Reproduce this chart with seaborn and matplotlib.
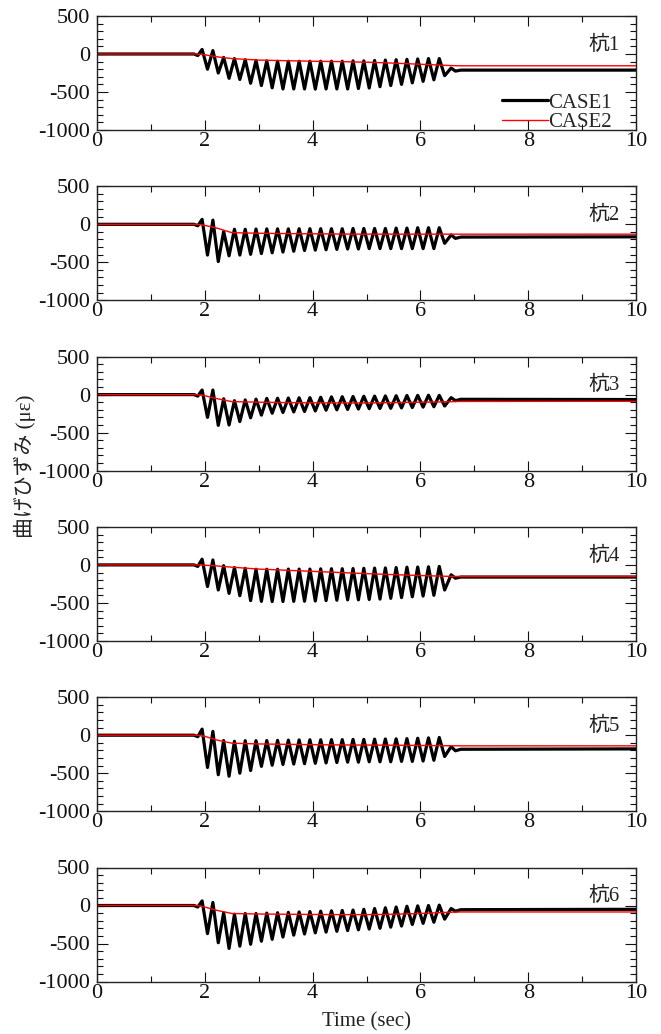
import numpy as np
import pandas as pd
import matplotlib
matplotlib.use("Agg")
import matplotlib.pyplot as plt
from matplotlib.ticker import MultipleLocator
import seaborn as sns

# ---- data -------------------------------------------------------------
PILES = ["杭1", "杭2", "杭3", "杭4", "杭5", "杭6"]

# rest before shaking, then crest / trough times of the response (sec)
LEAD_T = [0.0, 1.80, 1.87]
PEAK_T = [1.95, 2.15, 2.35, 2.55, 2.75, 2.95, 3.15, 3.35, 3.55, 3.75, 3.95, 4.15,
          4.35, 4.55, 4.75, 4.95, 5.15, 5.35, 5.55, 5.75, 5.95, 6.15, 6.35]
TROUGH_T = [2.05, 2.25, 2.45, 2.65, 2.85, 3.05, 3.25, 3.45, 3.65, 3.85, 4.05, 4.25,
            4.45, 4.65, 4.85, 5.05, 5.25, 5.45, 5.65, 5.85, 6.05, 6.25, 6.45]
TAIL_T = [6.57, 6.65, 6.75, 10.0]

# CASE1 bending strain (με)
LEAD_V = [0, 0, -20]
CASE1_PEAKS = [
    [60, 45, -45, -60, -75, -85, -90, -95, -95, -95, -95, -95, -95, -95, -90, -90, -85, -80, -75, -70, -65, -60, -60],
    [65, 55, -95, -65, -65, -62, -60, -60, -60, -58, -58, -58, -58, -58, -55, -55, -55, -55, -50, -50, -45, -45, -45],
    [60, 60, -55, -80, -70, -60, -50, -48, -45, -42, -40, -35, -30, -28, -25, -22, -20, -18, -15, -12, -10, -8, -10],
    [75, 65, -10, -35, -45, -57, -57, -57, -55, -55, -55, -52, -50, -50, -48, -45, -42, -40, -35, -30, -28, -25, -20],
    [80, 50, -70, -80, -72, -72, -70, -68, -65, -62, -60, -60, -58, -58, -55, -55, -52, -50, -48, -45, -40, -35, -30],
    [60, 40, -95, -115, -105, -105, -100, -95, -90, -85, -80, -75, -70, -65, -60, -50, -40, -30, -20, -10, -5, 0, 5],
]
CASE1_TROUGHS = [
    [-200, -250, -320, -335, -385, -415, -445, -460, -460, -460, -462, -460, -460, -460, -455, -448, -430, -415, -400, -380, -360, -340, -285],
    [-405, -490, -415, -405, -395, -385, -375, -365, -355, -345, -340, -335, -330, -325, -325, -320, -320, -320, -320, -320, -320, -320, -250],
    [-300, -405, -400, -355, -305, -270, -245, -235, -228, -222, -215, -205, -200, -195, -190, -185, -182, -180, -175, -170, -165, -160, -150],
    [-285, -330, -375, -405, -470, -480, -482, -482, -480, -478, -475, -470, -465, -460, -460, -455, -450, -440, -430, -420, -410, -400, -330],
    [-425, -520, -540, -500, -465, -410, -395, -385, -380, -375, -370, -365, -360, -355, -355, -350, -350, -350, -345, -345, -340, -330, -280],
    [-370, -490, -565, -535, -510, -470, -445, -415, -390, -375, -360, -350, -340, -330, -320, -310, -300, -285, -270, -250, -235, -220, -180],
]
CASE1_TAILS = [
    [-185, -225, -212, -212],
    [-140, -185, -168, -165],
    [-40, -80, -62, -65],
    [-130, -175, -160, -160],
    [-150, -205, -185, -180],
    [-40, -75, -55, -50],
]

# CASE2 bending strain (με)
CASE2_T = [0.0, 1.85, 2.0, 2.2, 2.5, 3.0, 3.5, 4.0, 4.5, 5.0, 5.5, 6.0, 6.5, 6.7, 10.0]
CASE2_V = [
    [0, 0, -10, -35, -60, -80, -88, -95, -100, -108, -120, -135, -150, -155, -155],
    [0, 0, -15, -45, -110, -118, -122, -125, -128, -130, -130, -130, -130, -130, -130],
    [0, 0, -15, -50, -92, -100, -105, -108, -110, -110, -105, -100, -95, -90, -88],
    [0, 0, -5, -12, -30, -55, -70, -85, -100, -115, -128, -140, -150, -152, -152],
    [0, 0, -15, -60, -105, -115, -120, -125, -128, -130, -132, -135, -138, -140, -140],
    [0, 0, -20, -60, -105, -112, -115, -118, -120, -120, -115, -105, -90, -85, -85],
]

X_TICKS = [0, 2, 4, 6, 8, 10]
Y_TICKS = [-1000, -500, 0, 500]

# ---- style ------------------------------------------------------------
sns.set_theme(style="ticks")
SERIF = "Liberation Serif"
FAMILY = [SERIF, "Noto Sans CJK JP"]
plt.rcParams.update({
    "font.family": FAMILY,
    "font.serif": [SERIF],
    "font.size": 15,
    "axes.unicode_minus": False,
    "axes.linewidth": 1.0,
    "axes.edgecolor": "#222222",
    "xtick.direction": "in",
    "ytick.direction": "in",
    "xtick.top": True,
    "ytick.right": True,
    "xtick.major.size": 7.5,
    "ytick.major.size": 8.0,
    "xtick.minor.size": 4.0,
    "ytick.minor.size": 4.5,
    "xtick.major.width": 0.8,
    "ytick.major.width": 0.8,
    "xtick.minor.width": 0.8,
    "ytick.minor.width": 0.8,
    "xtick.major.pad": 1.5,
    "ytick.major.pad": 5.0,
    "xtick.color": "#111111",
    "ytick.color": "#111111",
})

W, H = 661, 1034
fig = plt.figure(figsize=(W / 100, H / 100), dpi=100)

for i, pile in enumerate(PILES):
    top = 16 + 170.3 * i
    ax = fig.add_axes([97 / W, 1 - (top + 114) / H, 539 / W, 114 / H])

    # interleave crests and troughs into one time history
    t1 = list(LEAD_T)
    v1 = list(LEAD_V)
    for tp, vp, tt, vt in zip(PEAK_T, CASE1_PEAKS[i], TROUGH_T, CASE1_TROUGHS[i]):
        t1 += [tp, tt]
        v1 += [vp, vt]
    t1 += TAIL_T
    v1 += CASE1_TAILS[i]

    df1 = pd.DataFrame({"time": t1, "strain": v1})
    df2 = pd.DataFrame({"time": CASE2_T, "strain": CASE2_V[i]})

    sns.lineplot(data=df1, x="time", y="strain", ax=ax, color="black", lw=2.3,
                 estimator=None, sort=False, label="CASE1",
                 solid_joinstyle="round", solid_capstyle="round")
    sns.lineplot(data=df2, x="time", y="strain", ax=ax, color="#ff0000", lw=1.0,
                 estimator=None, sort=False, label="CASE2")

    ax.set_xlim(0, 10)
    ax.set_ylim(-1000, 500)
    ax.set_xticks(X_TICKS)
    ax.set_yticks(Y_TICKS)
    ax.set_xticklabels([str(v) for v in X_TICKS], fontfamily=SERIF, fontsize=16)
    ax.set_yticklabels([str(v) for v in Y_TICKS], fontfamily=SERIF, fontsize=16)
    ax.xaxis.set_minor_locator(MultipleLocator(1))
    ax.yaxis.set_minor_locator(MultipleLocator(100))
    ax.tick_params(which="both", top=True, right=True)
    ax.set_xlabel("")
    ax.set_ylabel("")

    ax.text(0.970, 0.745, pile, transform=ax.transAxes, ha="right", va="center",
            fontsize=15, family=FAMILY, color="#222222")

    if i == 0:
        leg = ax.legend(loc="lower right", bbox_to_anchor=(0.955, -0.02), frameon=False,
                        prop={"family": SERIF, "size": 15}, handlelength=2.2,
                        handletextpad=0.0, labelspacing=0.0, borderpad=0.0,
                        borderaxespad=0.0)
    else:
        ax.get_legend().remove()

fig.text(25 / W, 1 - 466 / H, "曲げひずみ (με)", rotation=90, ha="center",
         va="center", fontsize=15, family=FAMILY, color="#222222")
fig.text(366.5 / W, 1 - 1022 / H, "Time (sec)", ha="center", va="center",
         fontsize=15, family=SERIF, color="#222222")

fig.savefig("out.png", dpi=100)
